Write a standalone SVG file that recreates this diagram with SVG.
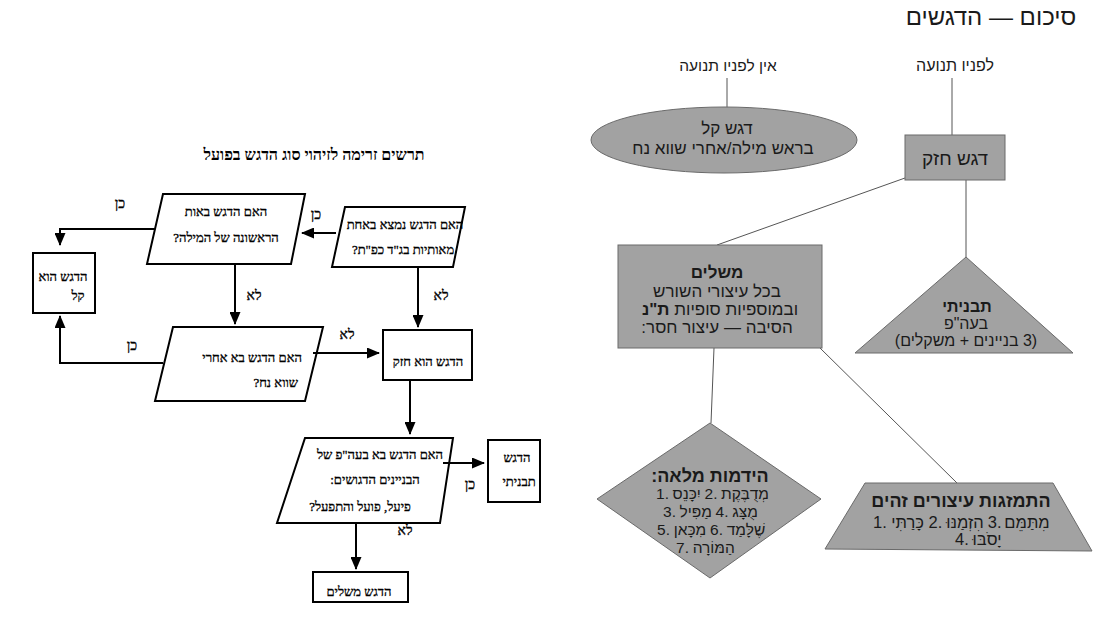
<svg xmlns="http://www.w3.org/2000/svg" width="1110" height="624" viewBox="0 0 1110 624">
<defs>
<style>
.bg{fill:#ffffff}
.box{fill:#ffffff;stroke:#000;stroke-width:2}
.conn{fill:none;stroke:#000;stroke-width:2}
.thin{fill:none;stroke:#555;stroke-width:1}
.shape{fill:#a2a2a2;stroke:#6a6a6a;stroke-width:1}
.lt{font-family:"Liberation Serif","DejaVu Serif",serif;font-size:13px;fill:#000;stroke:#000;stroke-width:0.3;direction:rtl;text-anchor:middle}
.lbl{font-family:"Liberation Serif","DejaVu Serif",serif;font-size:14px;fill:#000;stroke:#000;stroke-width:0.3;direction:rtl;text-anchor:middle}
.ttl{font-family:"Liberation Serif","DejaVu Serif",serif;font-size:16px;font-weight:bold;fill:#000;direction:rtl;text-anchor:middle}
.rt{font-family:"Liberation Sans","DejaVu Sans",sans-serif;font-size:16px;fill:#1a1a1a;direction:rtl;unicode-bidi:embed;text-anchor:middle}
.pc{font-family:"Liberation Sans","DejaVu Sans",sans-serif;font-size:15.5px;fill:#1a1a1a;text-anchor:middle}
.pc2{font-family:"Liberation Sans","DejaVu Sans",sans-serif;font-size:16.5px;fill:#1a1a1a;text-anchor:middle}
.b{font-weight:bold}
</style>
<marker id="ah" markerUnits="userSpaceOnUse" markerWidth="13" markerHeight="11" refX="12" refY="5.5" orient="auto">
<path d="M0,0 L13,5.5 L0,11 z" fill="#000"/>
</marker>
</defs>
<rect class="bg" x="0" y="0" width="1110" height="624"/>

<!-- LEFT FLOWCHART -->
<g id="title-left"><text class="ttl" x="314" y="160">תרשים זרימה לזיהוי סוג הדגש בפועל</text></g>

<g id="n-q1">
<polygon class="box" points="345,207 465,207 453,267 332,267"/>
<text class="lt" x="405" y="229">האם הדגש נמצא באחת</text>
<text class="lt" x="403" y="254">מאותיות בג"ד כפ"ת?</text>
</g>
<g id="n-q2">
<polygon class="box" points="163,194 305,194 291,264 147,264"/>
<text class="lt" x="226" y="216">האם הדגש באות</text>
<text class="lt" x="226" y="242">הראשונה של המילה?</text>
</g>
<g id="n-light">
<rect class="box" x="33" y="253" width="62" height="60"/>
<text class="lt" x="63" y="281">הדגש הוא</text>
<text class="lt" x="78" y="300">קל</text>
</g>
<g id="n-q3">
<polygon class="box" points="173,327 323,327 305,401 155,401"/>
<text class="lt" x="302" y="362" style="text-anchor:start">האם הדגש בא אחרי</text>
<text class="lt" x="298" y="387" style="text-anchor:start">שווא נח?</text>
</g>
<g id="n-strong">
<rect class="box" x="383" y="330" width="89" height="50"/>
<text class="lt" x="428" y="366">הדגש הוא חזק</text>
</g>
<g id="n-q4">
<polygon class="box" points="305,438 453,438 440,523 277,523"/>
<text class="lt" x="380" y="459">האם הדגש בא בעה"פ של</text>
<text class="lt" x="375" y="484">הבניינים הדגושים:</text>
<text class="lt" x="360" y="511">פיעל, פועל והתפעל?</text>
</g>
<g id="n-struct">
<rect class="box" x="488" y="440" width="52" height="62"/>
<text class="lt" x="517" y="462">הדגש</text>
<text class="lt" x="519" y="486">תבניתי</text>
</g>
<g id="n-compl">
<rect class="box" x="313" y="572" width="95" height="30"/>
<text class="lt" x="359" y="596">הדגש משלים</text>
</g>

<g id="connectors-left">
<path class="conn" d="M336,233 H302" marker-end="url(#ah)"/>
<text class="lbl" x="316" y="219">כן</text>
<path class="conn" d="M155,229 H60 V245" marker-end="url(#ah)"/>
<text class="lbl" x="120" y="208">כן</text>
<path class="conn" d="M235,264 V324" marker-end="url(#ah)"/>
<text class="lbl" x="254" y="300">לא</text>
<path class="conn" d="M418,267 V327" marker-end="url(#ah)"/>
<text class="lbl" x="441" y="300">לא</text>
<path class="conn" d="M313,353 H379" marker-end="url(#ah)"/>
<text class="lbl" x="347" y="339">לא</text>
<path class="conn" d="M163,363 H60 V316" marker-end="url(#ah)"/>
<text class="lbl" x="132" y="350">כן</text>
<path class="conn" d="M410,380 V434" marker-end="url(#ah)"/>
<path class="conn" d="M443,463 H484" marker-end="url(#ah)"/>
<text class="lbl" x="470" y="489">כן</text>
<path class="conn" d="M356,523 V569" marker-end="url(#ah)"/>
<text class="lbl" x="405" y="535">לא</text>
</g>

<!-- RIGHT DIAGRAM -->
<g id="title-right"><text class="rt" style="font-size:24px" x="991" y="25">סיכום — הדגשים</text></g>
<g id="label-no-vowel"><text class="rt" style="font-size:15.5px" x="728" y="71">אין לפניו תנועה</text></g>
<g id="label-vowel"><text class="rt" style="font-size:16px" x="955" y="71">לפניו תנועה</text></g>

<g id="connectors-right">
<line class="thin" x1="727" y1="78" x2="727" y2="108"/>
<line class="thin" x1="952" y1="78" x2="952" y2="135"/>
<line class="thin" x1="905" y1="178" x2="717" y2="245"/>
<line class="thin" x1="966" y1="180" x2="966" y2="257"/>
<line class="thin" x1="714" y1="348" x2="711" y2="423"/>
<line class="thin" x1="820" y1="348" x2="957" y2="483"/>
</g>

<g id="n-dagesh-kal">
<ellipse class="shape" cx="724" cy="140" rx="133" ry="33"/>
<text class="rt" style="font-size:17px" x="727" y="134">דגש קל</text>
<text class="rt" style="font-size:17px" x="723" y="154">בראש מילה/אחרי שווא נח</text>
</g>
<g id="n-dagesh-hazak">
<rect class="shape" x="905" y="135" width="100" height="45"/>
<text class="rt" style="font-size:19px" x="955" y="165">דגש חזק</text>
</g>
<g id="n-mashlim">
<rect class="shape" x="618" y="245" width="204" height="103"/>
<text class="rt b" style="font-size:17px" x="717" y="278">משלים</text>
<text class="rt" style="font-size:17px" x="717" y="297">בכל עיצורי השורש</text>
<text class="rt" style="font-size:17px" x="720" y="315">ובמוספיות סופיות <tspan class="b">ת"נ</tspan></text>
<text class="rt" style="font-size:17px" x="717" y="333">הסיבה — עיצור חסר:</text>
</g>
<g id="n-tavniti">
<polygon class="shape" points="966,257 1073,353 855,353"/>
<text class="rt b" style="font-size:16px" x="967" y="312">תבניתי</text>
<text class="rt" style="font-size:16px" x="966" y="329">בעה"פ</text>
<text class="rt" style="font-size:16px" x="966" y="346">(3 בניינים + משקלים)</text>
</g>
<g id="n-hidamut">
<polygon class="shape" points="710,423 821,499 710,578 597,499"/>
<text class="rt b" style="font-size:18px" x="710" y="482">הידמות מלאה:</text>
<text class="pc" x="662.5" y="499">1.</text>
<text class="pc" x="686.7" y="499">יִכָּנֵס</text>
<text class="pc" x="711" y="499">2.</text>
<text class="pc" x="745" y="499">מְדֻבֶּקֶת</text>
<text class="pc" x="669.5" y="517">3.</text>
<text class="pc" x="695.7" y="517">מַפִּיל</text>
<text class="pc" x="722" y="517">4.</text>
<text class="pc" x="745" y="517">מֻצָּג</text>
<text class="pc" x="663.5" y="535">5.</text>
<text class="pc" x="690" y="535">מִכָּאן</text>
<text class="pc" x="716.5" y="535">6.</text>
<text class="pc" x="746" y="535">שֶׁלָּמַד</text>
<text class="pc" x="682.5" y="553">7.</text>
<text class="pc" x="713.7" y="553">הַמּוֹרָה</text>
</g>
<g id="n-hitmazgut">
<polygon class="shape" points="865,483 1053,483 1092,551 825,549"/>
<text class="rt b" style="font-size:18px" x="961" y="507">התמזגות עיצורים זהים</text>
<text class="pc2" x="880" y="528">1.</text>
<text class="pc2" x="907.6" y="528">כָּרַתִּי</text>
<text class="pc2" x="935.4" y="528">2.</text>
<text class="pc2" x="965" y="528">הִזְמַנּוּ</text>
<text class="pc2" x="994.7" y="528">3.</text>
<text class="pc2" x="1027" y="528">מִתַּמֵּם</text>
<text class="pc2" x="962" y="545">4.</text>
<text class="pc2" x="987" y="545">יָסֹבּוּ</text>
</g>
</svg>
